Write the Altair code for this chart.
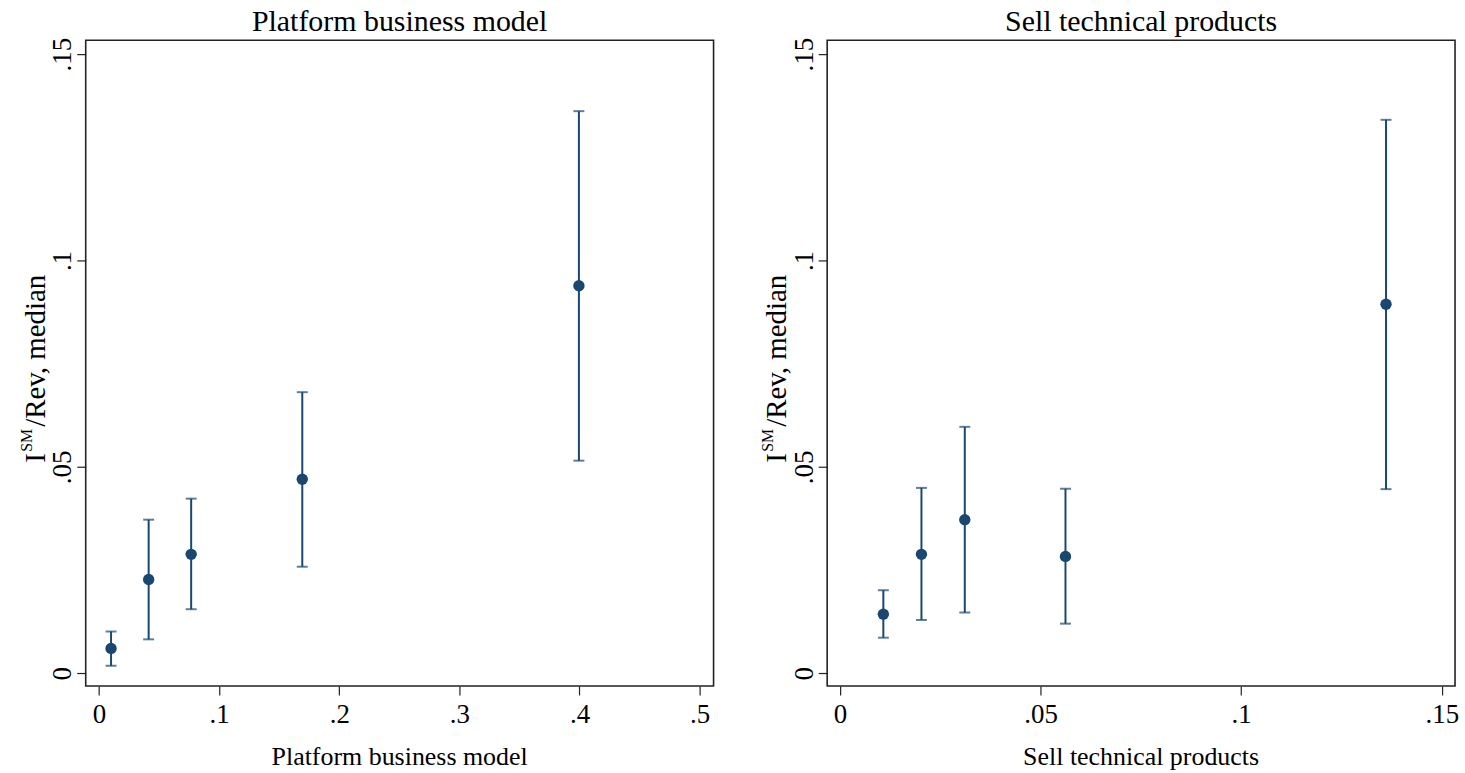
import altair as alt
import pandas as pd

# Platform business model: bin share (x), median I^SM/Rev (y) and 95% interval
platform_x = [0.0100, 0.0413, 0.0767, 0.1692, 0.3995]
platform_y = [0.0060, 0.0227, 0.0288, 0.0470, 0.0939]
platform_lo = [0.0018, 0.0082, 0.0155, 0.0258, 0.0515]
platform_hi = [0.0101, 0.0372, 0.0423, 0.0681, 0.1362]

# Sell technical products
tech_x = [0.0108, 0.0203, 0.0311, 0.0562, 0.1361]
tech_y = [0.0143, 0.0288, 0.0372, 0.0283, 0.0894]
tech_lo = [0.0086, 0.0129, 0.0147, 0.0120, 0.0446]
tech_hi = [0.0201, 0.0449, 0.0597, 0.0447, 0.1341]

y_ticks = [0, 0.05, 0.1, 0.15]
platform_ticks = [0, 0.1, 0.2, 0.3, 0.4, 0.5]
tech_ticks = [0, 0.05, 0.1, 0.15]

FONT = "Liberation Serif"
NAVY = "#1a476f"
INK = "#000000"
W, H = 630, 648

# drop the leading zero of decimals, Stata style
DOT_LABEL = "datum.value == 0 ? '0' : substring(format(datum.value, '~g'), 1)"


def label(text, x, y, size, angle=0, align="center"):
    return (
        alt.Chart(pd.DataFrame({"t": [text]}))
        .mark_text(font=FONT, fontSize=size, angle=angle, align=align,
                   baseline="alphabetic", color=INK)
        .encode(text="t:N", x=alt.value(x), y=alt.value(y))
    )


def panel(xv, yv, lo, hi, xdom, xticks, name):
    df = pd.DataFrame({"x": xv, "y": yv, "lo": lo, "hi": hi})
    xs = alt.Scale(domain=xdom, nice=False, zero=False)
    ys = alt.Scale(domain=[-0.0031, 0.1534], nice=False, zero=False)
    xaxis = alt.Axis(values=xticks, labelExpr=DOT_LABEL, title=None, domain=False,
                     grid=False, tickSize=9, labelPadding=7, labelAngle=0)
    yaxis = alt.Axis(values=y_ticks, labelExpr=DOT_LABEL, title=None, domain=False,
                     grid=False, tickSize=9, labelPadding=6, labelAngle=270,
                     labelAlign="center", labelBaseline="alphabetic")
    base = alt.Chart(df)
    bars = base.mark_rule(color=NAVY, strokeWidth=2).encode(
        x=alt.X("x:Q", scale=xs, axis=xaxis),
        y=alt.Y("lo:Q", scale=ys, axis=yaxis),
        y2="hi:Q",
    )
    cap_lo = base.mark_tick(orient="horizontal", size=11, thickness=2, color=NAVY).encode(
        x="x:Q", y="lo:Q")
    cap_hi = base.mark_tick(orient="horizontal", size=11, thickness=2, color=NAVY).encode(
        x="x:Q", y="hi:Q")
    pts = base.mark_circle(size=130, color=NAVY, opacity=1).encode(x="x:Q", y="y:Q")
    return alt.layer(
        bars, cap_lo, cap_hi, pts,
        # panel heading and x-axis title
        label(name, W / 2, -9, 30),
        label(name, W / 2, H + 79, 26),
        # y-axis title: I^SM/Rev, median
        label("I", -41, 424, 29, angle=270, align="left"),
        label("SM", -54, 413, 16, angle=270, align="left"),
        label("/Rev, median", -41, 388, 29, angle=270, align="left"),
    ).properties(width=W, height=H)


left = panel(platform_x, platform_y, platform_lo, platform_hi,
             [-0.0111, 0.5116], platform_ticks, "Platform business model")
right = panel(tech_x, tech_y, tech_lo, tech_hi,
              [-0.0032, 0.1533], tech_ticks, "Sell technical products")

chart = (
    alt.hconcat(left, right, spacing=114, bounds="flush")
    .properties(padding={"left": 18, "top": 5, "right": 5, "bottom": 0})
    .configure(background="white")
    .configure_view(stroke="#222222", strokeWidth=1.6)
    .configure_axis(labelFont=FONT, labelFontSize=27, labelColor=INK,
                    tickColor="#222222", tickWidth=1.2)
)

chart.save("out.html", embed_options={"renderer": "svg", "actions": False})
